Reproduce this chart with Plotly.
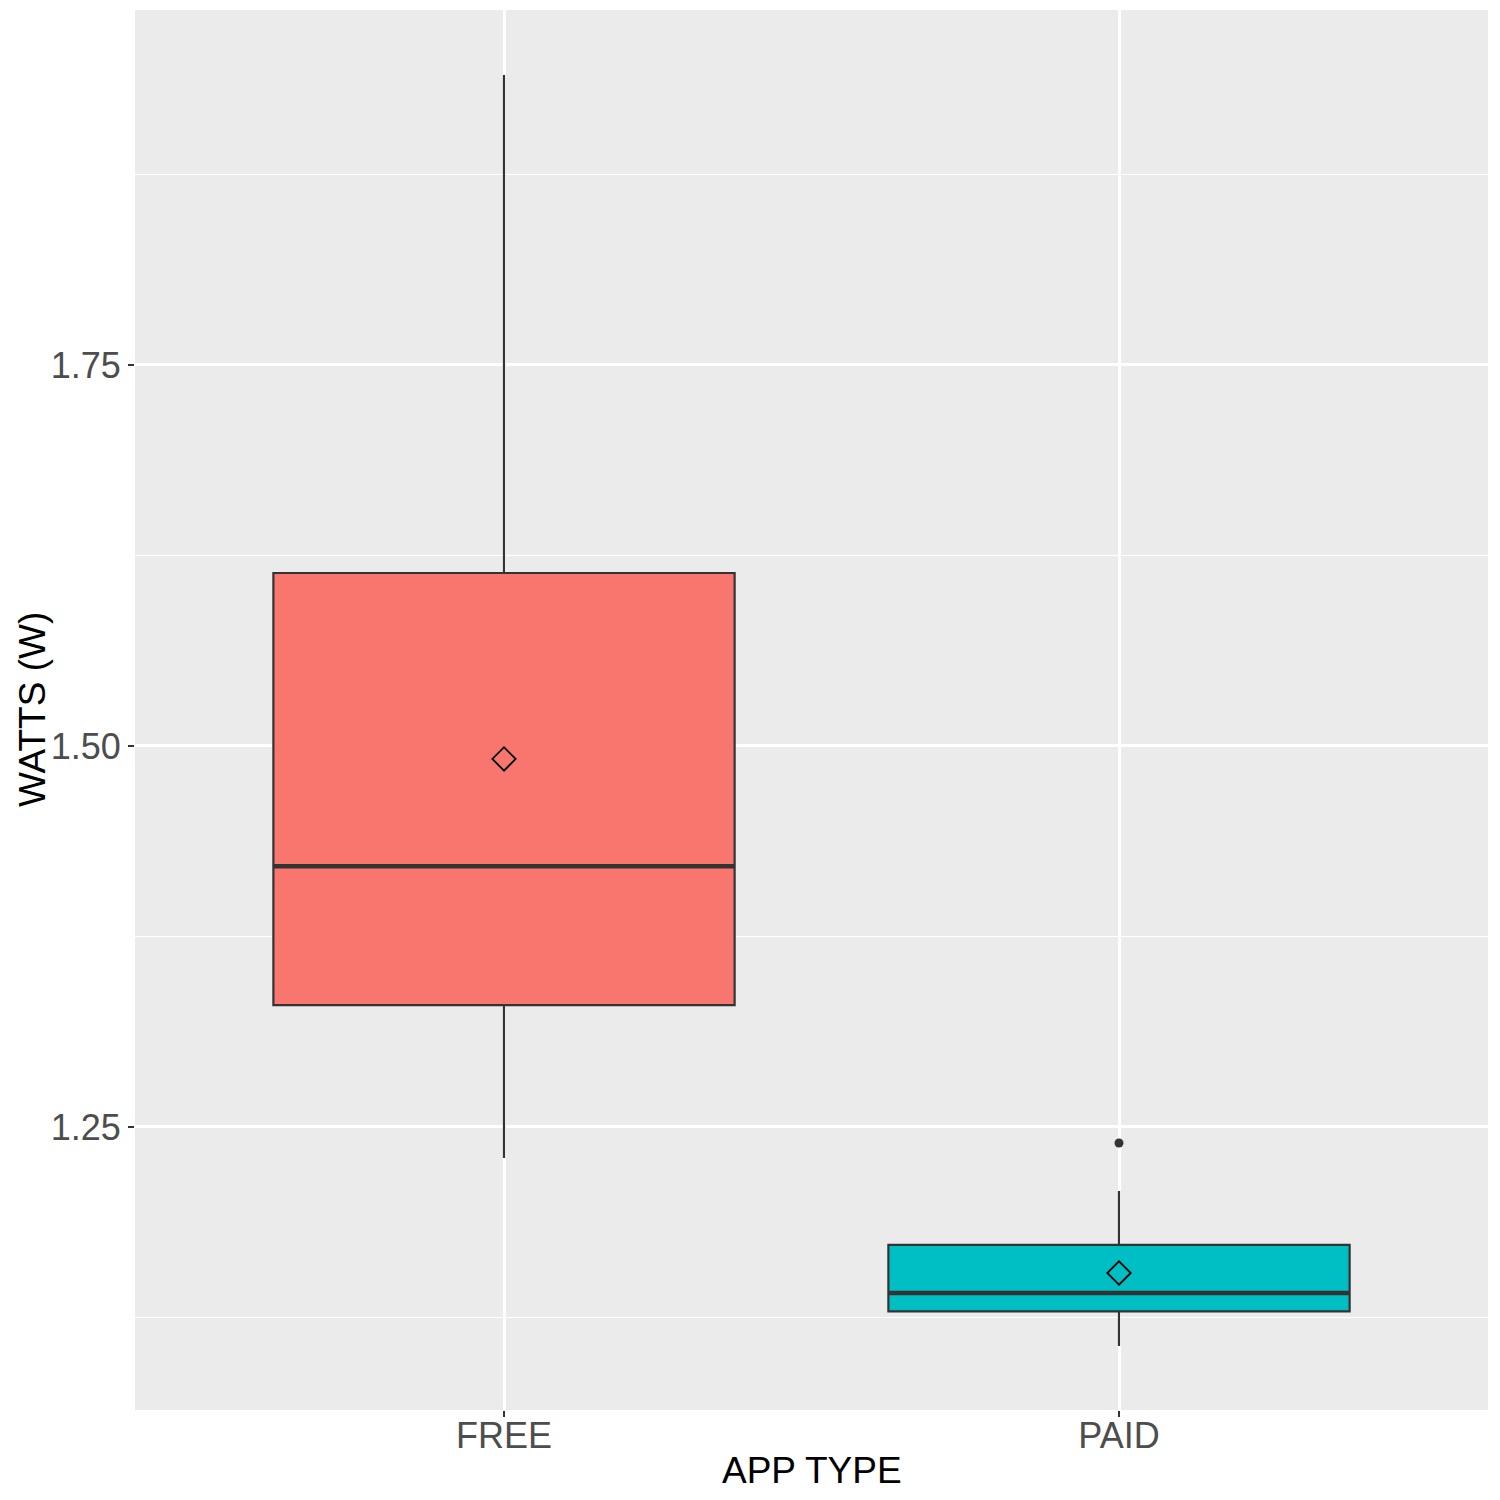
import plotly.graph_objects as go

categories = ["FREE", "PAID"]
q1 = [1.330, 1.129]
median = [1.421, 1.141]
q3 = [1.6135, 1.1726]
lower_whisker = [1.2297, 1.1063]
upper_whisker = [1.9403, 1.208]
means = [1.4915, 1.1542]
outlier_cat = [1]
outlier_val = [1.2395]
fill_colors = ["#F8766D", "#00BFC4"]

box_width = 0.75
xpos = list(range(len(categories)))

fig = go.Figure()
for i, cat in enumerate(categories):
    fig.add_trace(go.Box(
        x=[xpos[i]], q1=[q1[i]], median=[median[i]], q3=[q3[i]],
        lowerfence=[lower_whisker[i]], upperfence=[upper_whisker[i]],
        name=cat, width=box_width, whiskerwidth=0,
        fillcolor=fill_colors[i], line=dict(color="#333333", width=2.2),
        boxpoints=False, showlegend=False, hoverinfo="skip",
    ))
    # thicker median line
    fig.add_trace(go.Scatter(
        x=[xpos[i] - box_width / 2, xpos[i] + box_width / 2],
        y=[median[i], median[i]], mode="lines",
        line=dict(color="#333333", width=4.5), showlegend=False, hoverinfo="skip",
    ))

fig.add_trace(go.Scatter(
    x=[xpos[c] for c in outlier_cat], y=outlier_val, mode="markers",
    marker=dict(color="#333333", size=9, symbol="circle"), showlegend=False,
))
fig.add_trace(go.Scatter(
    x=xpos, y=means, mode="markers",
    marker=dict(symbol="diamond-open", size=18, color="black", line=dict(width=1.8, color="black")),
    showlegend=False,
))

fig.update_layout(
    width=1500, height=1500,
    margin=dict(l=135, r=12, t=10, b=90),
    paper_bgcolor="white", plot_bgcolor="#EBEBEB",
    font=dict(family="Liberation Sans, Arial, sans-serif"),
    annotations=[
        dict(text="APP TYPE", xref="paper", yref="paper", x=0.5, y=0, yshift=-60,
             xanchor="center", yanchor="middle", showarrow=False,
             font=dict(size=37, color="black")),
        dict(text="WATTS (W)", xref="paper", yref="paper", x=0, y=0.5, xshift=-103,
             xanchor="center", yanchor="middle", textangle=-90, showarrow=False,
             font=dict(size=37, color="black")),
    ],
)
fig.update_xaxes(
    range=[-0.6, 1.6], tickvals=xpos, ticktext=categories,
    showgrid=True, gridcolor="white", gridwidth=2.5, zeroline=False,
    ticks="outside", ticklen=6, tickwidth=1.5, tickcolor="#333333",
    tickfont=dict(size=36, color="#4D4D4D"), ticklabelstandoff=-12,
    showline=False, automargin=False,
)
fig.update_yaxes(
    range=[1.0643, 1.9829], tickvals=[1.25, 1.5, 1.75], ticktext=["1.25", "1.50", "1.75"],
    showgrid=True, gridcolor="white", gridwidth=2.5, zeroline=False,
    minor=dict(tickvals=[1.125, 1.375, 1.625, 1.875], showgrid=True, gridcolor="white", gridwidth=1.2),
    ticks="outside", ticklen=6, tickwidth=1.5, tickcolor="#333333",
    tickfont=dict(size=36, color="#4D4D4D"),
    showline=False, automargin=False,
)
fig.write_html("out.html")
